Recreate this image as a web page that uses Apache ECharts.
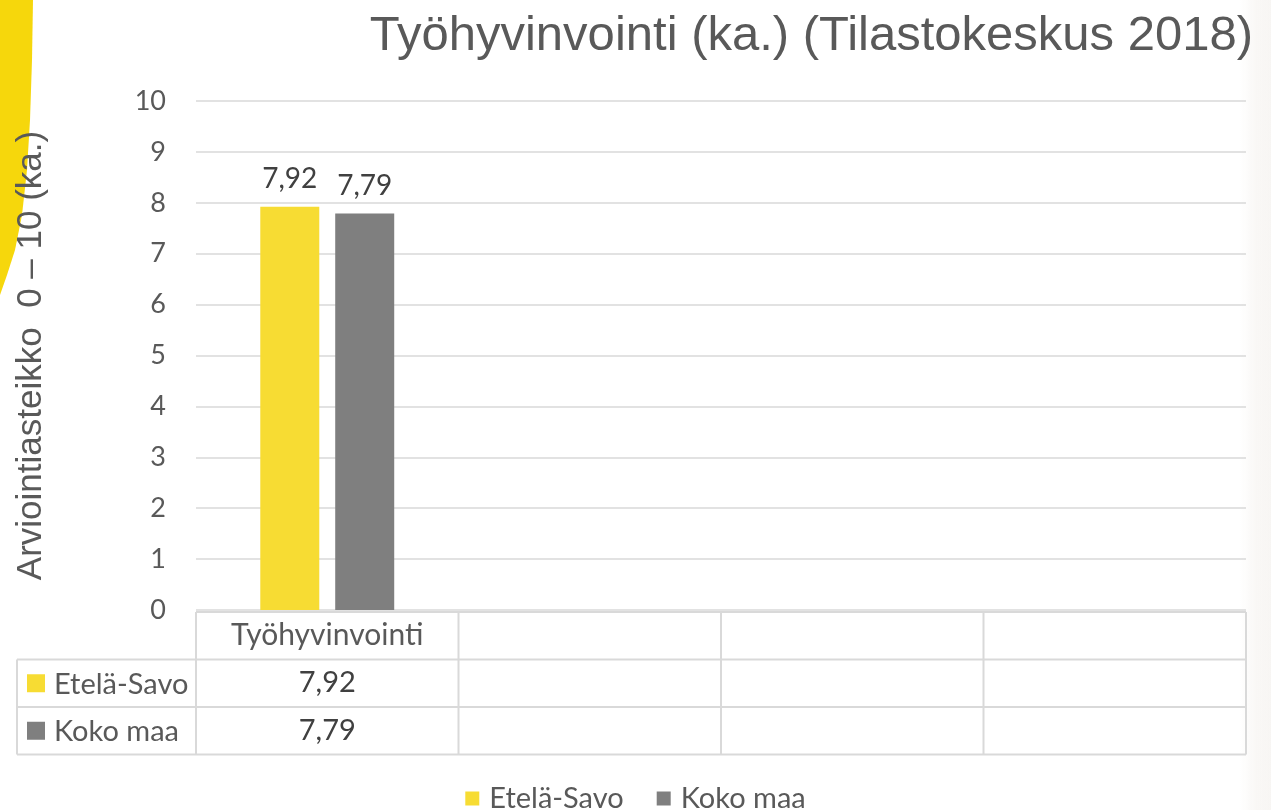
<!DOCTYPE html>
<html>
<head>
<meta charset="utf-8">
<script src="https://cdn.jsdelivr.net/npm/echarts@6/dist/echarts.min.js"></script>
<style>
  html, body { margin: 0; padding: 0; background: #fff; }
  #chart { width: 1271px; height: 810px; }
</style>
</head>
<body>
<div id="chart"></div>
<script>
  // data
  const categories = ['Työhyvinvointi', '', '', '']
  const seriesNames = ['Etelä-Savo', 'Koko maa']
  const etelaSavo = [7.92, null, null, null]
  const kokoMaa = [7.79, null, null, null]
  const colors = ['#f7dc33', '#7f7f7f']
  const yMin = 0
  const yMax = 10
  const yStep = 1

  const fmt = v => (v == null ? '' : v.toFixed(2).replace('.', ','))
  const seriesData = [etelaSavo, kokoMaa]

  const labelFont = 'Lato, "Open Sans", sans-serif'
  const arialFont = '"Liberation Sans", Arial, sans-serif'
  const textColor = '#595959'
  const lineColor = '#d9d9d9'
  const rowH = 47.5

  const chart = echarts.init(document.getElementById('chart'))

  const rowAxis = (i) => ({
    type: 'category',
    data: seriesData[i].map(fmt),
    position: 'bottom',
    offset: rowH * (i + 1),
    axisLine: { show: false },
    axisTick: { show: false },
    axisLabel: { margin: 11, fontSize: 29, color: '#404040', fontFamily: labelFont, interval: 0 }
  })

  chart.setOption({
    animation: false,
    title: {
      text: 'Työhyvinvointi (ka.) (Tilastokeskus 2018)',
      right: 13,
      top: 7,
      textStyle: { fontSize: 49, fontWeight: 'normal', color: textColor, fontFamily: arialFont }
    },
    legend: {
      top: 779,
      left: 'center',
      itemWidth: 14,
      itemHeight: 14,
      itemGap: 33,
      icon: 'rect',
      textStyle: { fontSize: 29, color: textColor, fontFamily: labelFont, padding: [0, 0, 0, 5] },
      data: seriesNames
    },
    grid: { left: 196, right: 25, top: 101, bottom: 200 },
    xAxis: [
      {
        type: 'category',
        data: categories,
        axisLine: { show: false },
        axisTick: { show: false },
        axisLabel: { margin: 10, fontSize: 30, color: textColor, fontFamily: labelFont, interval: 0 }
      },
      rowAxis(0),
      rowAxis(1)
    ],
    yAxis: {
      type: 'value',
      min: yMin,
      max: yMax,
      interval: yStep,
      name: 'Arviointiasteikko  0 – 10 (ka.)',
      nameLocation: 'middle',
      nameRotate: 90,
      nameGap: 147,
      nameTextStyle: { fontSize: 35, color: textColor, fontFamily: arialFont },
      axisLine: { show: false },
      axisTick: { show: false },
      axisLabel: { margin: 30, fontSize: 27, color: textColor, fontFamily: labelFont },
      splitLine: { lineStyle: { color: lineColor, width: 1.5 } }
    },
    series: seriesNames.map((name, i) => ({
      name,
      type: 'bar',
      data: seriesData[i],
      barWidth: 59,
      barGap: '27%',
      itemStyle: { color: colors[i] },
      label: {
        show: true,
        position: 'top',
        distance: 14,
        fontSize: 28,
        color: '#404040',
        fontFamily: labelFont,
        formatter: p => fmt(p.value)
      }
    }))
  })

  // data table frame and decoration
  const buildGraphic = () => {
    const base = chart.convertToPixel({ yAxisIndex: 0 }, 0)
    const c0 = chart.convertToPixel({ xAxisIndex: 0 }, 0)
    const c1 = chart.convertToPixel({ xAxisIndex: 0 }, 1)
    const band = c1 - c0
    const left = c0 - band / 2
    const right = left + band * categories.length
    const y0 = base + 2
    const keyLeft = 17
    const els = []
    const line = (x1, y1, x2, y2) => els.push({
      type: 'line', shape: { x1, y1, x2, y2 }, style: { stroke: lineColor, lineWidth: 2 }, silent: true
    })
    const yEnd = y0 + rowH * 3
    line(left, y0, right, y0)
    for (let r = 1; r <= 3; r++) line(keyLeft, y0 + rowH * r, right, y0 + rowH * r)
    line(keyLeft, y0 + rowH, keyLeft, yEnd)
    for (let i = 0; i <= categories.length; i++) line(left + band * i, y0, left + band * i, yEnd)
    seriesNames.forEach((name, i) => {
      const cy = y0 + rowH * (i + 1.5)
      els.push({ type: 'rect', shape: { x: 27, y: cy - 9, width: 18, height: 18 }, style: { fill: colors[i] } })
      els.push({
        type: 'text', x: 54, y: cy + 1,
        style: { text: name, fontSize: 29, fill: textColor, fontFamily: labelFont, verticalAlign: 'middle' }
      })
    })
    // yellow corner shape
    els.push({
      type: 'polygon', z: -1,
      shape: { points: [[0, 0], [33, 0], [32, 60], [30, 120], [27, 170], [22, 215], [15, 250], [7, 275], [0, 295]] },
      style: { fill: '#f6d70c' }
    })
    // faint right edge shade
    els.push({
      type: 'rect', z: -2, shape: { x: 1240, y: 0, width: 31, height: 810 },
      style: {
        fill: {
          type: 'linear', x: 0, y: 0, x2: 1, y2: 0,
          colorStops: [
            { offset: 0, color: 'rgba(246,243,240,0)' },
            { offset: 0.5, color: 'rgba(246,243,240,0.6)' },
            { offset: 1, color: 'rgba(248,246,244,1)' }
          ]
        }
      }
    })
    chart.setOption({ graphic: els })
  }
  buildGraphic()
</script>
</body>
</html>
